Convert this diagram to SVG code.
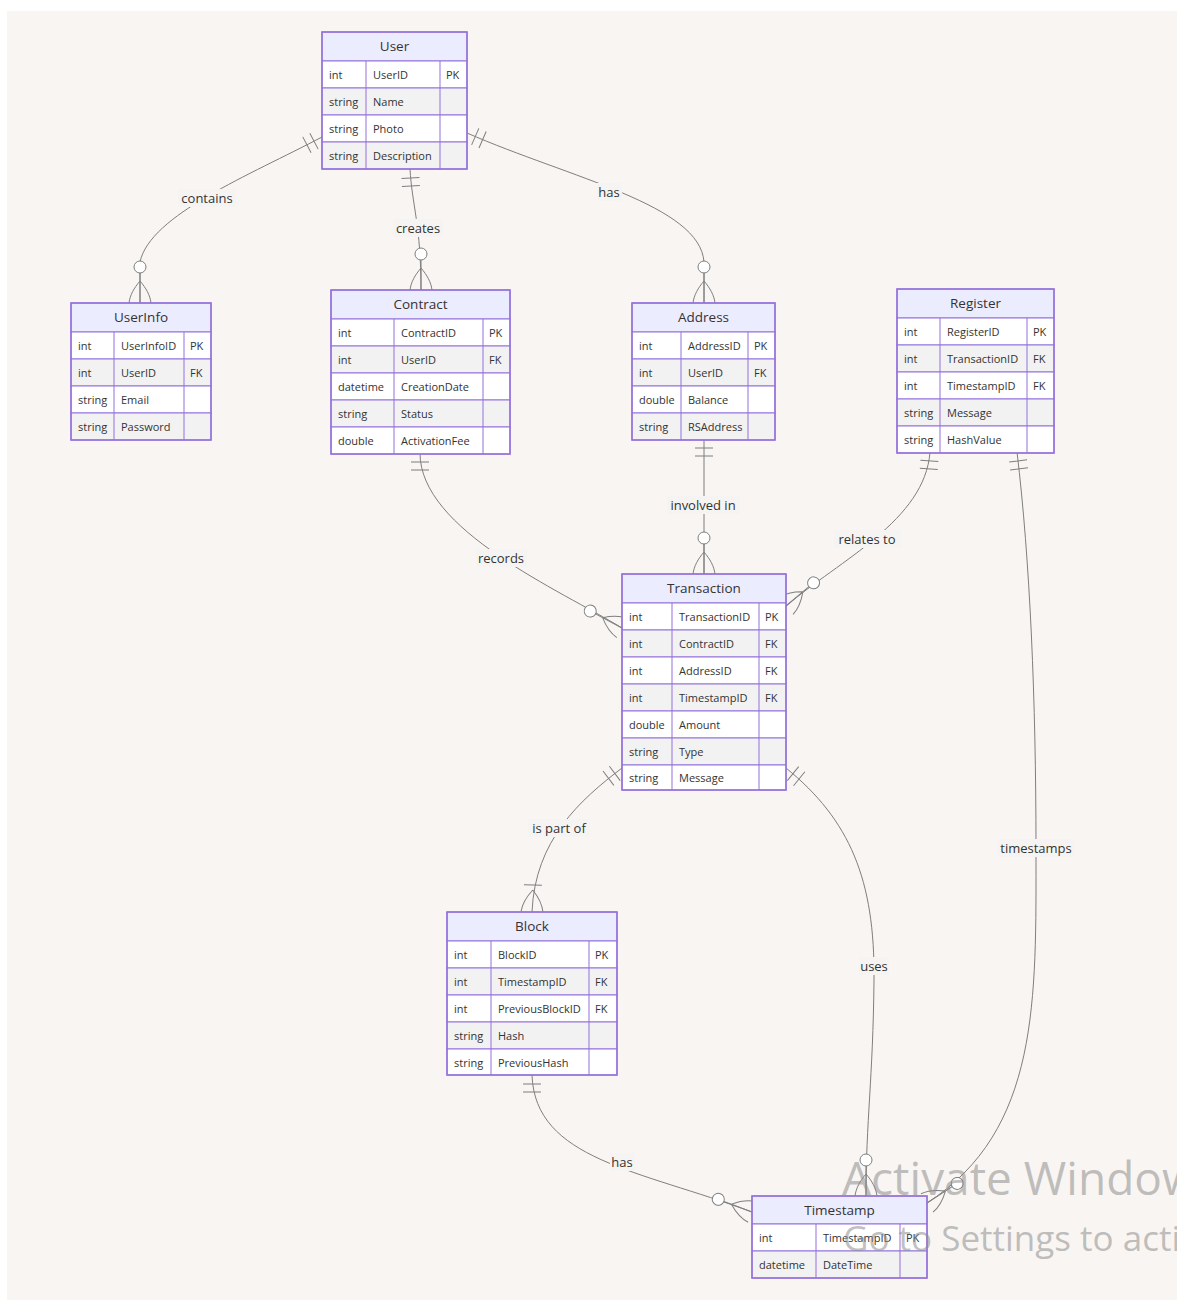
<svg xmlns="http://www.w3.org/2000/svg" xmlns:xlink="http://www.w3.org/1999/xlink" width="1177" height="1300" viewBox="0 0 1177 1300">
  <style>
    .hd { fill: #ececff; stroke: #9370db; stroke-width: 1; }
    .odd { fill: #ffffff; stroke: #9370db; stroke-width: 1; }
    .even { fill: #f2f2f2; stroke: #9370db; stroke-width: 1; }
    .ln { fill: none; stroke: #9370db; stroke-width: 1; }
    .box { fill: none; stroke: #9370db; stroke-width: 1.5; }
    .ht { font-family: "Open Sans", "Noto Sans", sans-serif; font-size: 13.5px; fill: #333; text-anchor: middle; }
    .ct { font-family: "Open Sans", "Noto Sans", sans-serif; font-size: 11px; fill: #333; }
    .edge { fill: none; stroke: #7f7f7f; stroke-width: 1; }
    .mk { fill: none; stroke: #7f7f7f; stroke-width: 1; }
    .lbg { fill: #f6f4f2; }
    .lt { font-family: "Open Sans", "Noto Sans", sans-serif; font-size: 13px; fill: #333; text-anchor: middle; }
    .wm { font-family: "Open Sans", "Noto Sans", sans-serif; fill: #8c8c8c; fill-opacity: 0.55; }
  </style>
  <defs>
    <!-- cardinality glyphs, drawn with the line travelling along +x into an entity edge at the origin -->
    <g id="one" class="mk"><path d="M-9,-9V9M-17,-9V9"/></g>
    <g id="zmany" class="mk">
      <circle cx="-36" cy="0" r="6" fill="#ffffff"/>
      <path d="M-30,0H0M-22,0C-15,-6 -8,-10 0,-11M-22,0C-15,6 -8,10 0,11"/>
    </g>
    <g id="omany" class="mk"><path d="M-27,-9V9M-22,0C-15,-6 -8,-10 0,-11M-22,0C-15,6 -8,10 0,11"/></g>
  </defs>

  <rect x="0" y="0" width="1177" height="1300" fill="#ffffff"/>
  <rect x="7" y="11" width="1170" height="1289" fill="#f8f5f2"/>

  <!-- relationships -->
  <g id="connectors">
    <path class="edge" d="M322,137 C250,175 150,215 140,262 L140,303"/>
    <path class="edge" d="M410,169 C412,205 421,225 421,290"/>
    <path class="edge" d="M467,133 C570,178 700,205 704,262 L704,303"/>
    <path class="edge" d="M704,439 L704,574"/>
    <path class="edge" d="M420,453 C420,530 560,590 622,628"/>
    <path class="edge" d="M930,452 C925,520 840,560 786,606"/>
    <path class="edge" d="M622,768 C580,800 535,840 532,912"/>
    <path class="edge" d="M786,768 C850,820 875,880 874,980 C873,1080 866,1120 866,1196"/>
    <path class="edge" d="M1017,452 C1030,560 1036,700 1036,848 C1036,1000 1040,1130 927,1203"/>
    <path class="edge" d="M532,1075 C535,1160 640,1170 752,1212"/>

    <use xlink:href="#one" transform="translate(322,137) rotate(-27.5)"/>
    <use xlink:href="#zmany" transform="translate(140,303) rotate(90)"/>
    <use xlink:href="#one" transform="translate(410,169) rotate(-93)"/>
    <use xlink:href="#zmany" transform="translate(421,290) rotate(90)"/>
    <use xlink:href="#one" transform="translate(467,133) rotate(-156.4)"/>
    <use xlink:href="#zmany" transform="translate(704,303) rotate(90)"/>
    <use xlink:href="#one" transform="translate(704,439) rotate(-90)"/>
    <use xlink:href="#zmany" transform="translate(704,574) rotate(90)"/>
    <use xlink:href="#one" transform="translate(420,453) rotate(-90)"/>
    <use xlink:href="#zmany" transform="translate(622,628) rotate(28)"/>
    <use xlink:href="#one" transform="translate(930,452) rotate(-86)"/>
    <use xlink:href="#zmany" transform="translate(786,606) rotate(140)"/>
    <use xlink:href="#one" transform="translate(622,768) rotate(-37)"/>
    <use xlink:href="#omany" transform="translate(532,912) rotate(92)"/>
    <use xlink:href="#one" transform="translate(786,768) rotate(-141)"/>
    <use xlink:href="#zmany" transform="translate(866,1196) rotate(90)"/>
    <use xlink:href="#one" transform="translate(1017,452) rotate(-97)"/>
    <use xlink:href="#zmany" transform="translate(927,1203) rotate(147)"/>
    <use xlink:href="#one" transform="translate(532,1075) rotate(-90)"/>
    <use xlink:href="#zmany" transform="translate(752,1212) rotate(20.6)"/>

    <g id="edge-labels">
      <rect class="lbg" x="178" y="189" width="58" height="18"/>
      <text class="lt" x="207" y="203">contains</text>
      <rect class="lbg" x="393" y="219" width="50" height="18"/>
      <text class="lt" x="418" y="233">creates</text>
      <rect class="lbg" x="597" y="183" width="25" height="18"/>
      <text class="lt" x="609" y="197">has</text>
      <rect class="lbg" x="667" y="496" width="73" height="18"/>
      <text class="lt" x="703" y="510">involved in</text>
      <rect class="lbg" x="476" y="549" width="51" height="18"/>
      <text class="lt" x="501" y="563">records</text>
      <rect class="lbg" x="834" y="530" width="67" height="18"/>
      <text class="lt" x="867" y="544">relates to</text>
      <rect class="lbg" x="528" y="819" width="62" height="18"/>
      <text class="lt" x="559" y="833">is part of</text>
      <rect class="lbg" x="859" y="957" width="30" height="18"/>
      <text class="lt" x="874" y="971">uses</text>
      <rect class="lbg" x="998" y="839" width="76" height="18"/>
      <text class="lt" x="1036" y="853">timestamps</text>
      <rect class="lbg" x="610" y="1153" width="25" height="18"/>
      <text class="lt" x="622" y="1167">has</text>
    </g>
  </g>

  <!-- entities -->
  <g id="User" transform="translate(322,32)">
    <rect class="hd" width="145" height="29"/>
    <text class="ht" x="72.5" y="19">User</text>
    <rect class="odd" y="29" width="145" height="27"/>
    <rect class="even" y="56" width="145" height="27"/>
    <rect class="odd" y="83" width="145" height="27"/>
    <rect class="even" y="110" width="145" height="27"/>
    <path class="ln" d="M44,29V137M118,29V137"/>
    <rect class="box" width="145" height="137"/>
    <text class="ct" x="7" y="47">int</text><text class="ct" x="51" y="47">UserID</text><text class="ct" x="124" y="47">PK</text>
    <text class="ct" x="7" y="74">string</text><text class="ct" x="51" y="74">Name</text>
    <text class="ct" x="7" y="101">string</text><text class="ct" x="51" y="101">Photo</text>
    <text class="ct" x="7" y="128">string</text><text class="ct" x="51" y="128">Description</text>
  </g>

  <g id="UserInfo" transform="translate(71,303)">
    <rect class="hd" width="140" height="29"/>
    <text class="ht" x="70" y="19">UserInfo</text>
    <rect class="odd" y="29" width="140" height="27"/>
    <rect class="even" y="56" width="140" height="27"/>
    <rect class="odd" y="83" width="140" height="27"/>
    <rect class="even" y="110" width="140" height="27"/>
    <path class="ln" d="M43,29V137M113,29V137"/>
    <rect class="box" width="140" height="137"/>
    <text class="ct" x="7" y="47">int</text><text class="ct" x="50" y="47">UserInfoID</text><text class="ct" x="119" y="47">PK</text>
    <text class="ct" x="7" y="74">int</text><text class="ct" x="50" y="74">UserID</text><text class="ct" x="119" y="74">FK</text>
    <text class="ct" x="7" y="101">string</text><text class="ct" x="50" y="101">Email</text>
    <text class="ct" x="7" y="128">string</text><text class="ct" x="50" y="128">Password</text>
  </g>

  <g id="Contract" transform="translate(331,290)">
    <rect class="hd" width="179" height="29"/>
    <text class="ht" x="89.5" y="19">Contract</text>
    <rect class="odd" y="29" width="179" height="27"/>
    <rect class="even" y="56" width="179" height="27"/>
    <rect class="odd" y="83" width="179" height="27"/>
    <rect class="even" y="110" width="179" height="27"/>
    <rect class="odd" y="137" width="179" height="27"/>
    <path class="ln" d="M63,29V164M152,29V164"/>
    <rect class="box" width="179" height="164"/>
    <text class="ct" x="7" y="47">int</text><text class="ct" x="70" y="47">ContractID</text><text class="ct" x="158" y="47">PK</text>
    <text class="ct" x="7" y="74">int</text><text class="ct" x="70" y="74">UserID</text><text class="ct" x="158" y="74">FK</text>
    <text class="ct" x="7" y="101">datetime</text><text class="ct" x="70" y="101">CreationDate</text>
    <text class="ct" x="7" y="128">string</text><text class="ct" x="70" y="128">Status</text>
    <text class="ct" x="7" y="155">double</text><text class="ct" x="70" y="155">ActivationFee</text>
  </g>

  <g id="Address" transform="translate(632,303)">
    <rect class="hd" width="143" height="29"/>
    <text class="ht" x="71.5" y="19">Address</text>
    <rect class="odd" y="29" width="143" height="27"/>
    <rect class="even" y="56" width="143" height="27"/>
    <rect class="odd" y="83" width="143" height="27"/>
    <rect class="even" y="110" width="143" height="27"/>
    <path class="ln" d="M49,29V137M116,29V137"/>
    <rect class="box" width="143" height="137"/>
    <text class="ct" x="7" y="47">int</text><text class="ct" x="56" y="47">AddressID</text><text class="ct" x="122" y="47">PK</text>
    <text class="ct" x="7" y="74">int</text><text class="ct" x="56" y="74">UserID</text><text class="ct" x="122" y="74">FK</text>
    <text class="ct" x="7" y="101">double</text><text class="ct" x="56" y="101">Balance</text>
    <text class="ct" x="7" y="128">string</text><text class="ct" x="56" y="128">RSAddress</text>
  </g>

  <g id="Register" transform="translate(897,289)">
    <rect class="hd" width="157" height="29"/>
    <text class="ht" x="78.5" y="19">Register</text>
    <rect class="odd" y="29" width="157" height="27"/>
    <rect class="even" y="56" width="157" height="27"/>
    <rect class="odd" y="83" width="157" height="27"/>
    <rect class="even" y="110" width="157" height="27"/>
    <rect class="odd" y="137" width="157" height="27"/>
    <path class="ln" d="M43,29V164M130,29V164"/>
    <rect class="box" width="157" height="164"/>
    <text class="ct" x="7" y="47">int</text><text class="ct" x="50" y="47">RegisterID</text><text class="ct" x="136" y="47">PK</text>
    <text class="ct" x="7" y="74">int</text><text class="ct" x="50" y="74">TransactionID</text><text class="ct" x="136" y="74">FK</text>
    <text class="ct" x="7" y="101">int</text><text class="ct" x="50" y="101">TimestampID</text><text class="ct" x="136" y="101">FK</text>
    <text class="ct" x="7" y="128">string</text><text class="ct" x="50" y="128">Message</text>
    <text class="ct" x="7" y="155">string</text><text class="ct" x="50" y="155">HashValue</text>
  </g>

  <g id="Transaction" transform="translate(622,574)">
    <rect class="hd" width="164" height="29"/>
    <text class="ht" x="82" y="19">Transaction</text>
    <rect class="odd" y="29" width="164" height="27"/>
    <rect class="even" y="56" width="164" height="27"/>
    <rect class="odd" y="83" width="164" height="27"/>
    <rect class="even" y="110" width="164" height="27"/>
    <rect class="odd" y="137" width="164" height="27"/>
    <rect class="even" y="164" width="164" height="27"/>
    <rect class="odd" y="191" width="164" height="25"/>
    <path class="ln" d="M50,29V216M137,29V216"/>
    <rect class="box" width="164" height="216"/>
    <text class="ct" x="7" y="47">int</text><text class="ct" x="57" y="47">TransactionID</text><text class="ct" x="143" y="47">PK</text>
    <text class="ct" x="7" y="74">int</text><text class="ct" x="57" y="74">ContractID</text><text class="ct" x="143" y="74">FK</text>
    <text class="ct" x="7" y="101">int</text><text class="ct" x="57" y="101">AddressID</text><text class="ct" x="143" y="101">FK</text>
    <text class="ct" x="7" y="128">int</text><text class="ct" x="57" y="128">TimestampID</text><text class="ct" x="143" y="128">FK</text>
    <text class="ct" x="7" y="155">double</text><text class="ct" x="57" y="155">Amount</text>
    <text class="ct" x="7" y="182">string</text><text class="ct" x="57" y="182">Type</text>
    <text class="ct" x="7" y="208">string</text><text class="ct" x="57" y="208">Message</text>
  </g>

  <g id="Block" transform="translate(447,912)">
    <rect class="hd" width="170" height="29"/>
    <text class="ht" x="85" y="19">Block</text>
    <rect class="odd" y="29" width="170" height="27"/>
    <rect class="even" y="56" width="170" height="27"/>
    <rect class="odd" y="83" width="170" height="27"/>
    <rect class="even" y="110" width="170" height="27"/>
    <rect class="odd" y="137" width="170" height="26"/>
    <path class="ln" d="M44,29V163M142,29V163"/>
    <rect class="box" width="170" height="163"/>
    <text class="ct" x="7" y="47">int</text><text class="ct" x="51" y="47">BlockID</text><text class="ct" x="148" y="47">PK</text>
    <text class="ct" x="7" y="74">int</text><text class="ct" x="51" y="74">TimestampID</text><text class="ct" x="148" y="74">FK</text>
    <text class="ct" x="7" y="101">int</text><text class="ct" x="51" y="101">PreviousBlockID</text><text class="ct" x="148" y="101">FK</text>
    <text class="ct" x="7" y="128">string</text><text class="ct" x="51" y="128">Hash</text>
    <text class="ct" x="7" y="155">string</text><text class="ct" x="51" y="155">PreviousHash</text>
  </g>

  <g id="Timestamp" transform="translate(752,1196)">
    <rect class="hd" width="175" height="28"/>
    <text class="ht" x="87.5" y="19">Timestamp</text>
    <rect class="odd" y="28" width="175" height="27"/>
    <rect class="even" y="55" width="175" height="27"/>
    <path class="ln" d="M64,28V82M148,28V82"/>
    <rect class="box" width="175" height="82"/>
    <text class="ct" x="7" y="46">int</text><text class="ct" x="71" y="46">TimestampID</text><text class="ct" x="154" y="46">PK</text>
    <text class="ct" x="7" y="73">datetime</text><text class="ct" x="71" y="73">DateTime</text>
  </g>

  <!-- system watermark over the lower right corner -->
  <g id="watermark">
    <text class="wm" x="842" y="1195" font-size="46">Activate Windows</text>
    <text class="wm" x="843" y="1251" font-size="35">Go to Settings to activate Windows.</text>
  </g>
</svg>
